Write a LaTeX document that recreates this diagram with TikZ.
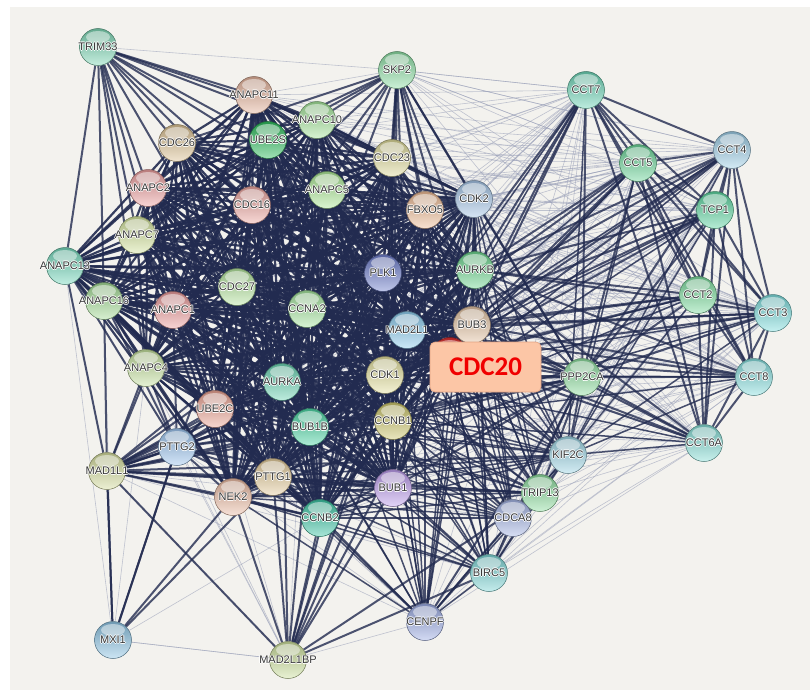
\documentclass[tikz,border=0pt]{standalone}
\usepackage{fontspec}
\setmainfont{Liberation Sans}
\newfontfamily\cfont{Carlito}
\usetikzlibrary{calc}
\pgfdeclarelayer{bgl}
\pgfdeclarelayer{edgel}
\pgfsetlayers{bgl,edgel,main}

\definecolor{bgc}{HTML}{F3F2EE}
\definecolor{edgec}{HTML}{222B50}
\definecolor{edgel}{HTML}{9CA2BA}
\definecolor{labc}{HTML}{383838}
\definecolor{boxf}{HTML}{FCC6A6}
\definecolor{boxd}{HTML}{E2A282}
\definecolor{cTRIM33}{HTML}{7ED8B6}
\definecolor{cANAPC11}{HTML}{E6B49C}
\definecolor{cSKP2}{HTML}{8EE0A6}
\definecolor{cCCT7}{HTML}{6ED6B8}
\definecolor{cANAPC10}{HTML}{A6E69C}
\definecolor{cUBE2S}{HTML}{2EBE5E}
\definecolor{cCDC26}{HTML}{DEC496}
\definecolor{cCDC23}{HTML}{DEDA9A}
\definecolor{cCCT5}{HTML}{6CD69A}
\definecolor{cCCT4}{HTML}{9ECFE8}
\definecolor{cANAPC2}{HTML}{EEA0A0}
\definecolor{cCDC16}{HTML}{EEA8A2}
\definecolor{cANAPC5}{HTML}{AEEA98}
\definecolor{cFBXO5}{HTML}{F0BE98}
\definecolor{cCDK2}{HTML}{A6C6E8}
\definecolor{cTCP1}{HTML}{5ED6A2}
\definecolor{cANAPC7}{HTML}{D6E6A0}
\definecolor{cANAPC13}{HTML}{76DABE}
\definecolor{cPLK1}{HTML}{7080CE}
\definecolor{cAURKB}{HTML}{6ED690}
\definecolor{cCDC27}{HTML}{B6E6A0}
\definecolor{cANAPC16}{HTML}{A6DE98}
\definecolor{cANAPC1}{HTML}{EE9E9E}
\definecolor{cCCNA2}{HTML}{A6E6A0}
\definecolor{cCCT2}{HTML}{7EDEA0}
\definecolor{cCCT3}{HTML}{7EDEDE}
\definecolor{cMAD2L1}{HTML}{8ECEF0}
\definecolor{cBUB3}{HTML}{E6C6A6}
\definecolor{cCDC20}{HTML}{E03030}
\definecolor{cPPP2CA}{HTML}{8EDEA0}
\definecolor{cCCT8}{HTML}{86DEDE}
\definecolor{cANAPC4}{HTML}{C6E2A0}
\definecolor{cCDK1}{HTML}{E6E2A0}
\definecolor{cAURKA}{HTML}{6ED6B6}
\definecolor{cUBE2C}{HTML}{EEA696}
\definecolor{cBUB1B}{HTML}{4ED6A6}
\definecolor{cCCNB1}{HTML}{CEC86E}
\definecolor{cCCT6A}{HTML}{86DED6}
\definecolor{cPTTG2}{HTML}{9EC6F0}
\definecolor{cKIF2C}{HTML}{9ED6E6}
\definecolor{cMAD1L1}{HTML}{D6DE9E}
\definecolor{cPTTG1}{HTML}{E6CE9E}
\definecolor{cNEK2}{HTML}{EEBEA6}
\definecolor{cBUB1}{HTML}{BE9EEE}
\definecolor{cTRIP13}{HTML}{8EDEA0}
\definecolor{cCCNB2}{HTML}{3EC6A6}
\definecolor{cCDCA8}{HTML}{A6B6E6}
\definecolor{cBIRC5}{HTML}{7ED6D6}
\definecolor{cCENPF}{HTML}{9EAEE6}
\definecolor{cMXI1}{HTML}{8EC6E6}
\definecolor{cMAD2L1BP}{HTML}{CEE29E}

\newcommand\hl[1]{%
 \makebox[0pt]{\color{white}\raisebox{0.8pt}{#1}}%
 \makebox[0pt]{\color{white}\raisebox{-0.8pt}{#1}}%
 \makebox[0pt]{\color{white}\hspace*{1.6pt}#1}%
 \makebox[0pt]{\color{white}#1\hspace*{1.6pt}}%
 \makebox[0pt]{#1}}

\tikzset{
 gn/.style={circle, minimum size=37pt, inner sep=0pt, draw=#1!55!black, line width=0.5pt,
   top color=#1!78!black, bottom color=#1!45!white,
   text=labc, font=\fontsize{11}{12}\selectfont,
   path picture={\fill[white,opacity=0.45] ($(path picture bounding box.center)+(0pt,10pt)$) ellipse [x radius=12pt, y radius=6pt];}},
 ec/.style={draw=edgec, line width=2.2pt, opacity=0.9},
 ed/.style={draw=edgec, line width=1.5pt, opacity=0.82},
 et/.style={draw=edgec, line width=2pt, opacity=0.8},
 ew/.style={draw=edgel, line width=0.6pt, opacity=0.6},
}
\newcommand\gnode[3]{\node[gn=c#1] (#1) at (#2,#3) {\hl{#1}};}
\newcommand\clique[2]{\foreach \a [count=\i] in {#2} {\foreach \b [count=\j] in {#2} {\ifnum\j>\i \draw[#1] (\a) -- (\b);\fi}}}
\newcommand\fan[3]{\foreach \b in {#3} {\draw[#1] (#2) -- (\b);}}

\begin{document}
\begin{tikzpicture}[x=1pt,y=-1pt]
\useasboundingbox (0,0) rectangle (810,693);
\begin{pgfonlayer}{bgl}
\fill[white] (0,0) rectangle (810,693);
\fill[bgc] (10,7) rectangle (810,690);
\end{pgfonlayer}

\gnode{TRIM33}{98}{47}
\gnode{ANAPC11}{254}{95}
\gnode{SKP2}{397}{70}
\gnode{CCT7}{586}{90}
\gnode{ANAPC10}{317}{120}
\gnode{UBE2S}{268}{140}
\gnode{CDC26}{177}{143}
\gnode{CDC23}{392}{158}
\gnode{CCT5}{638}{163}
\gnode{CCT4}{732}{150}
\gnode{ANAPC2}{148}{188}
\gnode{CDC16}{252}{205}
\gnode{ANAPC5}{327}{190}
\gnode{FBXO5}{425}{210}
\gnode{CDK2}{474}{199}
\gnode{TCP1}{715}{210}
\gnode{ANAPC7}{137}{235}
\gnode{ANAPC13}{65}{266}
\gnode{PLK1}{383}{273}
\gnode{AURKB}{475}{270}
\gnode{CDC27}{237}{287}
\gnode{ANAPC16}{104}{301}
\gnode{ANAPC1}{173}{310}
\gnode{CCNA2}{307}{309}
\gnode{CCT2}{698}{295}
\gnode{CCT3}{773}{313}
\gnode{MAD2L1}{407}{330}
\gnode{BUB3}{472}{325}
\node[gn=cCDC20] (CDC20) at (450,356) {};
\gnode{PPP2CA}{582}{377}
\gnode{CCT8}{754}{377}
\gnode{ANAPC4}{146}{368}
\gnode{CDK1}{385}{375}
\gnode{AURKA}{282}{382}
\gnode{UBE2C}{215}{409}
\gnode{BUB1B}{310}{427}
\gnode{CCNB1}{393}{421}
\gnode{CCT6A}{704}{443}
\gnode{PTTG2}{177}{447}
\gnode{KIF2C}{568}{455}
\gnode{MAD1L1}{107}{471}
\gnode{PTTG1}{273}{477}
\gnode{NEK2}{233}{497}
\gnode{BUB1}{393}{488}
\gnode{TRIP13}{540}{493}
\gnode{CCNB2}{320}{518}
\gnode{CDCA8}{513}{518}
\gnode{BIRC5}{489}{573}
\gnode{CENPF}{425}{622}
\gnode{MXI1}{113}{640}
\gnode{MAD2L1BP}{288}{660}

\node[draw=boxd, line width=0.6pt, fill=boxf, rounded corners=5pt, minimum width=111pt, minimum height=50pt, inner sep=0pt, text={rgb,255:red,240;green,0;blue,0}, font=\cfont\bfseries\fontsize{27}{30}\selectfont] (CDC20box) at (485.5,367) {CDC20};

\begin{pgfonlayer}{edgel}
% thin, light edges
\foreach \c in {CCT7,CCT5,CCT4,TCP1,CCT2,CCT3,CCT8,CCT6A} {
 \fan{ew}{\c}{SKP2,CDC23,CDK2,FBXO5,ANAPC10,ANAPC5,ANAPC11,CDC16,CDK1,CCNB1,BUB1,TRIP13,CDCA8,BIRC5,CENPF,CCNA2,AURKA,BUB1B,CCNB2,UBE2C,PLK1,UBE2S,CDC27,NEK2,PTTG1}
}
\fan{ew}{SKP2}{ANAPC11,CCT7,CCT5,CCT4}
\fan{ew}{CDK2}{CCT7,CCT4,CCT5,TCP1}
\fan{ew}{MXI1}{ANAPC13,ANAPC4,MAD2L1BP,CCNB2,ANAPC16}
\fan{ew}{MAD2L1BP}{CENPF,ANAPC4,PTTG2,UBE2C,CCNA2,MXI1,ANAPC16}
\fan{ew}{MAD1L1}{CENPF,MAD2L1BP,BIRC5,CDCA8}
\fan{ew}{ANAPC13}{MAD1L1,PTTG2}
\fan{ew}{ANAPC4}{CENPF,BIRC5}
\fan{ew}{PTTG2}{CENPF,BIRC5}
\fan{ew}{TRIM33}{SKP2}

% dense core
\clique{ec}{ANAPC11,ANAPC10,UBE2S,CDC26,CDC23,ANAPC2,CDC16,ANAPC5,FBXO5,CDK2,ANAPC7,ANAPC13,PLK1,AURKB,CDC27,ANAPC16,ANAPC1,CCNA2,MAD2L1,BUB3,CDC20,ANAPC4,CDK1,AURKA,UBE2C,BUB1B,CCNB1,PTTG1,NEK2,BUB1,CCNB2}

% mitotic periphery
\clique{ed}{KIF2C,TRIP13,CDCA8,BIRC5,CENPF}
\foreach \c in {KIF2C,TRIP13,CDCA8,BIRC5,CENPF} {
 \fan{ed}{\c}{CDK2,PLK1,AURKB,CCNA2,MAD2L1,BUB3,CDC20,CDK1,AURKA,BUB1B,CCNB1,PTTG1,NEK2,BUB1,CCNB2,UBE2C,FBXO5}
}
\fan{et}{TRIM33}{ANAPC11,CDC26,ANAPC2,ANAPC7,ANAPC13,ANAPC16,ANAPC1,CDC16,UBE2S,ANAPC10,CDC27,ANAPC4,ANAPC5,CDC23,CDC20}
\fan{et}{SKP2}{CDC23,FBXO5,CDK2,AURKB,CDK1,CCNA2,CDC20,ANAPC10,ANAPC5,PLK1,BUB3,CCNB1,CDC16,CDC27,MAD2L1,ANAPC2,CDC26,UBE2S}
\fan{et}{MAD1L1}{MAD2L1,BUB1,BUB1B,BUB3,CDC20,CDK1,CCNB1,PLK1,NEK2,PTTG1,AURKB,AURKA,CCNB2,ANAPC4,ANAPC16,ANAPC13,ANAPC1,UBE2C,PTTG2,MXI1,MAD2L1BP,KIF2C,TRIP13,CCNA2}
\fan{et}{PTTG2}{PTTG1,CDC20,MXI1,CCNB1,CDK1,NEK2,ANAPC4,ANAPC16,ANAPC1,ANAPC13,UBE2C,AURKA,CCNB2,MAD2L1,BUB1B,BUB1,CCNA2,CDC27}
\fan{et}{MXI1}{PTTG2,NEK2,PTTG1,MAD1L1}
\fan{et}{MAD2L1BP}{CCNB2,BUB1,MAD2L1,CDC20,CDK1,CCNB1,BIRC5,TRIP13,NEK2,PTTG1,BUB1B,PLK1,AURKA}
\fan{et}{PPP2CA}{CDC20,BUB3,MAD2L1,AURKB,PLK1,CDK1,CCNB1,BUB1,KIF2C,TRIP13,CDCA8,BIRC5,CENPF,CDK2,AURKA,BUB1B,CCNA2,CCNB2,NEK2,MAD1L1,SKP2}
% chaperonin cluster
\clique{et}{CCT7,CCT5,CCT4,TCP1,CCT2,CCT3,CCT8,CCT6A}
\foreach \c in {CCT7,CCT5,CCT4,TCP1,CCT2,CCT3,CCT8,CCT6A} {
 \fan{et}{\c}{PPP2CA,CDC20,BUB3,AURKB,MAD2L1}
 \fan{ed}{\c}{KIF2C,CDK1,CCNB1}
}
\end{pgfonlayer}
\end{tikzpicture}
\end{document}
